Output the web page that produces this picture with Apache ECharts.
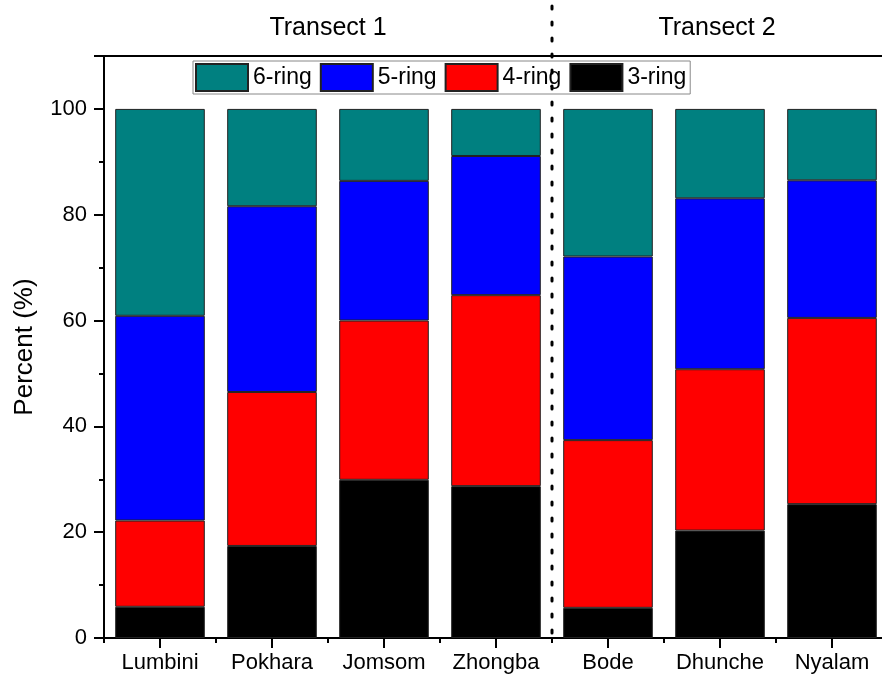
<!DOCTYPE html>
<html>
<head>
<meta charset="utf-8">
<script src="https://cdn.jsdelivr.net/npm/echarts@6/dist/echarts.min.js"></script>
<style>
  html, body { margin: 0; padding: 0; background: #fff; }
  #chart-container { width: 882px; height: 679px; }
</style>
</head>
<body>
<div id="chart-container"></div>
<script>
var categories = ['Lumbini', 'Pokhara', 'Jomsom', 'Zhongba', 'Bode', 'Dhunche', 'Nyalam'];
var ring3 = [5.9, 17.4, 29.9, 28.7, 5.7, 20.3, 25.3];
var ring4 = [16.3, 29.1, 30.1, 36.1, 31.7, 30.5, 35.2];
var ring5 = [38.7, 35.1, 26.4, 26.3, 34.7, 32.3, 26.0];
var ring6 = [39.1, 18.4, 13.6, 8.9, 27.9, 16.9, 13.5];
var yMajor = [0, 20, 40, 60, 80, 100];
var yMinor = [10, 30, 50, 70, 90];
var transects = ['Transect 1', 'Transect 2'];
var splitAfter = 3; // last category of transect 1

var dom = document.getElementById('chart-container');
var myChart = echarts.init(dom, null, { renderer: 'canvas' });

var font = 'Liberation Sans, Arial, sans-serif';
var black = { color: '#000', width: 2 };

function barSeries(name, data, color) {
  return {
    name: name,
    type: 'bar',
    stack: 'total',
    barCategoryGap: '20%',
    data: data,
    itemStyle: { color: color, borderColor: '#222', borderWidth: 1 }
  };
}

var option = {
  animation: false,
  backgroundColor: '#fff',
  grid: { left: 104, top: 56, width: 784, height: 582, outerBoundsMode: 'none' },
  legend: {
    data: ['6-ring', '5-ring', '4-ring', '3-ring'],
    icon: 'rect',
    left: 193,
    top: 61,
    padding: [2, 4, 2, 2],
    itemWidth: 52,
    itemHeight: 27,
    itemGap: 8,
    backgroundColor: '#fff',
    borderColor: '#888',
    borderWidth: 1,
    textStyle: { fontSize: 23, color: '#000', fontFamily: font }
  },
  xAxis: [
    {
      type: 'category',
      data: categories,
      position: 'bottom',
      axisLine: { show: true, onZero: false, lineStyle: black },
      axisTick: { show: true, interval: 0, length: 5, lineStyle: black },
      axisLabel: { interval: 0, hideOverlap: false, fontSize: 22, color: '#000', margin: 14, fontFamily: font }
    },
    {
      type: 'category',
      data: categories,
      position: 'top',
      axisLine: { show: true, onZero: false, lineStyle: black },
      axisTick: { show: false },
      axisLabel: { show: false }
    }
  ],
  yAxis: [
    {
      type: 'value',
      min: 0,
      max: 110,
      interval: 20,
      position: 'left',
      name: 'Percent (%)',
      nameLocation: 'middle',
      nameGap: 66,
      nameTextStyle: { fontSize: 26, color: '#000', fontFamily: font },
      splitLine: { show: false },
      axisLine: { show: true, lineStyle: black },
      axisTick: { show: true, length: 10, lineStyle: black },
      axisLabel: { fontSize: 22, color: '#000', margin: 17, customValues: yMajor, fontFamily: font }
    },
    {
      type: 'value',
      min: 0,
      max: 110,
      position: 'left',
      splitLine: { show: false },
      axisLine: { show: false },
      axisTick: { show: true, length: 5, customValues: yMinor, lineStyle: black },
      axisLabel: { show: false }
    }
  ],
  series: [
    barSeries('3-ring', ring3, '#000000'),
    barSeries('4-ring', ring4, '#ff0000'),
    barSeries('5-ring', ring5, '#0000ff'),
    barSeries('6-ring', ring6, '#008080')
  ]
};

myChart.setOption(option);

// divider between the two transects, transect titles and centre ticks
var leftX = myChart.convertToPixel({ xAxisIndex: 0 }, categories[splitAfter]);
var rightX = myChart.convertToPixel({ xAxisIndex: 0 }, categories[splitAfter + 1]);
var divX = (leftX + rightX) / 2;
var axisLeft = myChart.convertToPixel({ xAxisIndex: 0 }, categories[0]) - (rightX - leftX) / 2;
var baseY = myChart.convertToPixel({ yAxisIndex: 0 }, 0);

var graphics = [
  {
    type: 'line',
    z: 100,
    shape: { x1: divX, y1: 6, x2: divX, y2: baseY },
    style: { stroke: '#000', lineWidth: 3, lineDash: [3, 13], lineCap: 'round' }
  },
  {
    type: 'text',
    x: (axisLeft + divX) / 2,
    y: 28,
    style: { text: transects[0], fontSize: 25, fill: '#000', align: 'center', verticalAlign: 'middle', fontFamily: font }
  },
  {
    type: 'text',
    x: (divX + myChart.getWidth()) / 2,
    y: 28,
    style: { text: transects[1], fontSize: 25, fill: '#000', align: 'center', verticalAlign: 'middle', fontFamily: font }
  }
];

categories.forEach(function (c) {
  var cx = Math.round(myChart.convertToPixel({ xAxisIndex: 0 }, c));
  graphics.push({
    type: 'line',
    shape: { x1: cx, y1: baseY, x2: cx, y2: baseY + 10 },
    style: { stroke: '#000', lineWidth: 2 }
  });
});

myChart.setOption({ graphic: graphics });

window.addEventListener('resize', myChart.resize);
</script>
</body>
</html>
